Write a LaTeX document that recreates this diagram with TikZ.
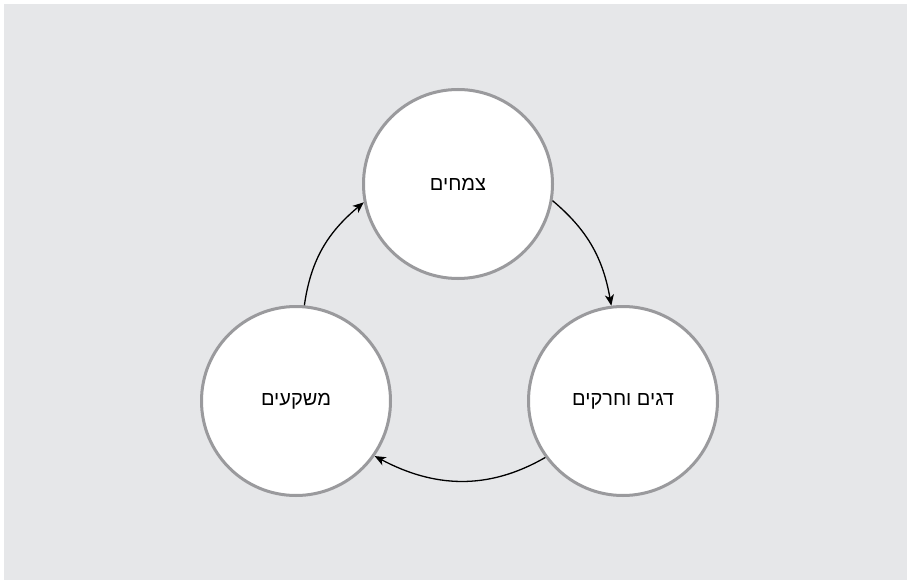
\documentclass[tikz,border=0pt]{standalone}
\usepackage{fontspec}
\setmainfont{Liberation Sans}
\newfontfamily\hebfont[Script=Hebrew]{Liberation Sans}
\TeXXeTstate=1
\usetikzlibrary{arrows.meta,positioning}
\definecolor{bggray}{HTML}{E6E7E9}
\definecolor{ringgray}{HTML}{9A9A9D}
\tikzstyle{pool} = [draw=ringgray, line width=3pt, fill=white, circle, minimum size=189pt, font=\hebfont\fontsize{20}{24}\selectfont]

\begin{document}
\begin{tikzpicture}[->,>={Stealth[length=11pt,width=9pt,inset=3pt]},x=1pt,y=1pt,on grid]
\useasboundingbox[fill=white] (0,0) rectangle (907,-580);
\fill[bggray] (4,-4) rectangle (907,-580);

\node[pool] (plants) at (458,-184) {\beginR צמחים\endR};
\node[pool, below right = 217pt and 165pt of plants] (fish) {\beginR דגים וחרקים\endR};
\node[pool, below left = 217pt and 162pt of plants] (silt) {\beginR משקעים\endR};

\path[line width=1.3pt]
(plants.-10) edge [out=-40, in=100] node {} (fish.97)
(fish.216) edge [out=210, in=-28] node {} (silt.-35)
(silt.85) edge [out=82, in=220] node {} (plants.191);
\end{tikzpicture}
\end{document}
